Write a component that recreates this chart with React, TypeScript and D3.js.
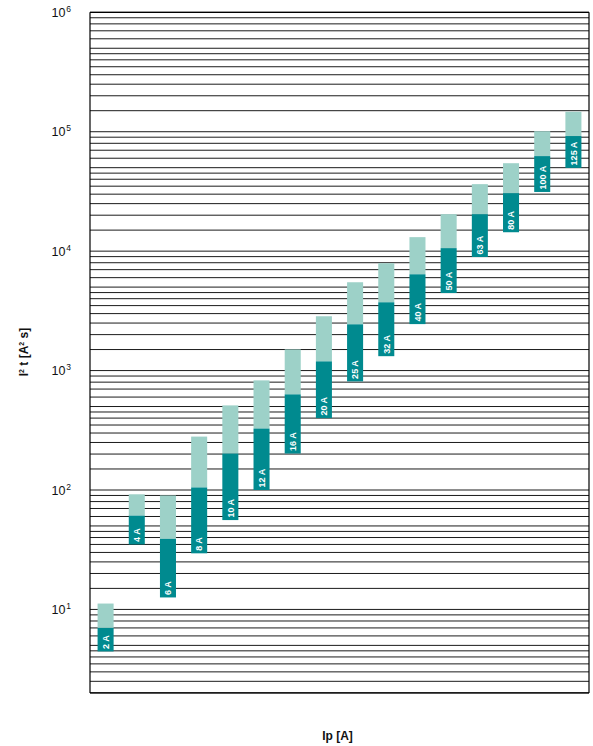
import React from "react";
import * as d3 from "d3";

const categories = ["2 A", "4 A", "6 A", "8 A", "10 A", "12 A", "16 A", "20 A", "25 A", "32 A", "40 A", "50 A", "63 A", "80 A", "100 A", "125 A"];
// I²t values: lower bound (bottom of dark bar), pre-arcing (dark/light boundary), total (top)
const lowValues = [4.45, 35, 12.6, 29.5, 56, 100, 202, 400, 812, 1320, 2450, 4460, 8940, 14400, 31300, 49800];
const midValues = [7.0, 61, 39, 105, 202, 327, 632, 1194, 2440, 3730, 6400, 10600, 20400, 30600, 62500, 92000];
const highValues = [11.2, 92, 90, 280, 511, 828, 1505, 2850, 5490, 7920, 13100, 20400, 36400, 54500, 101000, 147000];
const tickExponents = [1, 2, 3, 4, 5, 6];
const gridMultipliers = [1, 1.5, 2, 2.5, 3, 3.5, 4, 4.5, 5, 6, 7, 8, 9];

const W = 593;
const H = 746;
const left = 90;
const right = 589;
const top = 12.3;
const bottom = 692.9;

const DARK = "#008a8f";
const LIGHT = "#9dd1c8";

export default function App() {
  const y = d3.scaleLog().domain([2, 1e6]).range([bottom, top]);
  const x = d3
    .scaleBand<string>()
    .domain(categories)
    .range([left, right])
    .paddingInner(0.486)
    .paddingOuter(0.243);

  const gridVals: number[] = [];
  for (let k = 0; k <= 5; k++) {
    for (const m of gridMultipliers) {
      const v = m * Math.pow(10, k);
      if (v >= 2 && v <= 1e6) gridVals.push(v);
    }
  }
  gridVals.push(1e6);

  const bw = x.bandwidth();

  return (
    <svg
      width={W}
      height={H}
      style={{ position: "absolute", left: 0, top: 0, background: "#fff" }}
      fontFamily="'Liberation Sans', Arial, Helvetica, sans-serif"
    >
      <rect x={0} y={0} width={W} height={H} fill="#fff" />
      {gridVals.map((v, i) => (
        <line
          key={"g" + i}
          x1={left}
          x2={right}
          y1={y(v)}
          y2={y(v)}
          stroke="#000"
          strokeWidth={0.9}
        />
      ))}
      {categories.map((c, i) => {
        const x0 = x(c) as number;
        const yHigh = y(highValues[i]);
        const yMid = y(midValues[i]);
        const yLow = y(lowValues[i]);
        const cx = x0 + bw / 2;
        return (
          <g key={c}>
            <rect x={x0} y={yHigh} width={bw} height={yMid - yHigh} fill={LIGHT} />
            <rect x={x0} y={yMid} width={bw} height={yLow - yMid} fill={DARK} />
            <text
              transform={`translate(${cx + 3.3},${yLow - 2.5}) rotate(-90)`}
              fill="#fff"
              fontSize={9}
              fontWeight="bold"
            >
              {c}
            </text>
          </g>
        );
      })}
      {/* frame */}
      <line x1={left} x2={left} y1={top} y2={bottom} stroke="#000" strokeWidth={1.2} />
      <line x1={right} x2={right} y1={top} y2={bottom} stroke="#000" strokeWidth={1.2} />
      <line x1={left} x2={right} y1={top} y2={top} stroke="#000" strokeWidth={1.2} />
      <line x1={left} x2={right} y1={bottom} y2={bottom} stroke="#000" strokeWidth={1.2} />
      {tickExponents.map((e) => (
        <text key={"t" + e} x={51.5} y={y(Math.pow(10, e)) + 4.5} fontSize={12.5} fill="#111">
          10
          <tspan fontSize={8.5} dy={-4.8} dx={0.8}>
            {e}
          </tspan>
        </text>
      ))}
      <text
        transform={`translate(28,352) rotate(-90)`}
        textAnchor="middle"
        fontSize={12}
        fontWeight="bold"
        fill="#111"
      >
        I<tspan fontSize={7} dy={-4.5}>2</tspan>
        <tspan dy={4.5}> t [A</tspan>
        <tspan fontSize={7} dy={-4.5}>2</tspan>
        <tspan dy={4.5}> s]</tspan>
      </text>
      <text x={(left + right) / 2 - 2} y={740} textAnchor="middle" fontSize={12} fontWeight="bold" fill="#111">
        Ip [A]
      </text>
    </svg>
  );
}
